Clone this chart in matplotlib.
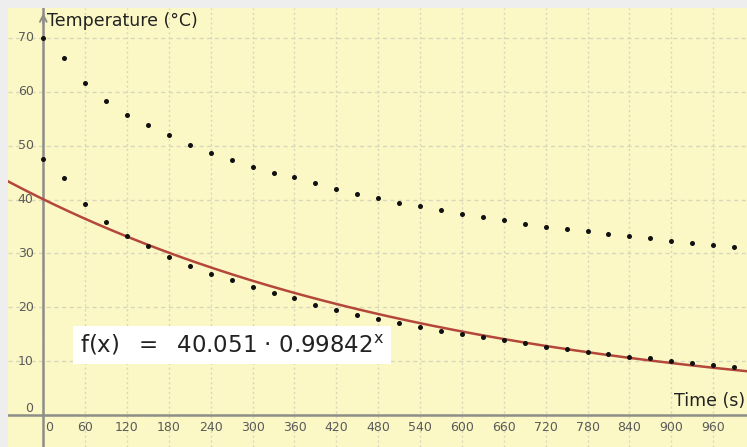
import numpy as np
import matplotlib
matplotlib.use("Agg")
import matplotlib.pyplot as plt

# ---- data ----
time_upper = [0, 30, 60, 90, 120, 150, 180, 210, 240, 270, 300, 330, 360, 390, 420, 450,
              480, 510, 540, 570, 600, 630, 660, 690, 720, 750, 780, 810, 840, 870, 900,
              930, 960, 990]
temp_upper = [70.0, 66.3, 61.6, 58.3, 55.7, 53.8, 51.9, 50.2, 48.6, 47.4, 46.0, 45.0, 44.1,
              43.0, 42.0, 41.1, 40.3, 39.4, 38.8, 38.1, 37.4, 36.7, 36.2, 35.5, 35.0, 34.6,
              34.1, 33.7, 33.2, 32.8, 32.4, 32.0, 31.6, 31.2]
time_lower = time_upper
temp_lower = [47.5, 44.0, 39.2, 35.9, 33.3, 31.3, 29.4, 27.7, 26.2, 25.1, 23.8, 22.6, 21.7,
              20.5, 19.5, 18.6, 17.8, 17.0, 16.4, 15.6, 15.0, 14.4, 13.9, 13.3, 12.7, 12.3,
              11.7, 11.3, 10.8, 10.5, 10.0, 9.6, 9.3, 8.9]
fit_a = 40.051
fit_b = 0.99842
x_ticks = [0, 60, 120, 180, 240, 300, 360, 420, 480, 540, 600, 660, 720, 780, 840, 900, 960]
y_ticks = [0, 10, 20, 30, 40, 50, 60, 70]
x_label = "Time (s)"
y_label = "Temperature (°C)"
formula = r"f(x)  $=$  40.051 · 0.99842$^{\mathsf{x}}$"

W, H = 747, 447
fig = plt.figure(figsize=(W / 100, H / 100), dpi=100)
fig.patch.set_facecolor("#eeeeee")
ax = fig.add_axes([8 / W, 0, (W - 8) / W, (H - 8) / H])
ax.set_facecolor("#fbf8c6")

xmin, xmax = -50.6, 1008.6
ymin, ymax = -5.94, 75.57
ax.set_xlim(xmin, xmax)
ax.set_ylim(ymin, ymax)

for s in ax.spines.values():
    s.set_visible(False)
ax.set_xticks([])
ax.set_yticks([])

grid_c = "#d9d6bb"
for xv in x_ticks:
    ax.axvline(xv, color=grid_c, lw=1.0, ls=(0, (1.5, 2.0)), zorder=1)
for yv in y_ticks:
    ax.axhline(yv, color=grid_c, lw=1.0, ls=(0, (3, 2.5)), zorder=1)

# axes lines
ax.axhline(0, color="#8e8e88", lw=1.8, zorder=2)
ax.axvline(0, color="#8e8e88", lw=1.8, zorder=2)
ax.annotate("", xy=(0, ymax - 0.4), xytext=(0, ymax - 3.5),
            arrowprops=dict(arrowstyle="->", color="#8e8e88", lw=1.4,
                            mutation_scale=12), zorder=2)

# tick labels
lab_c = "#5a5a5a"
for xv in x_ticks:
    ax.text(xv + (8 if xv == 0 else 0), -1.1, str(xv), ha="center", va="top",
            fontsize=9, color=lab_c, family="DejaVu Sans")
for yv in y_ticks:
    ax.text(-14, yv + (1.2 if yv == 0 else 0), str(yv), ha="right", va="center",
            fontsize=9, color=lab_c, family="DejaVu Sans")

ax.text(5, 73.2, y_label, ha="left", va="center", fontsize=12.5, color="#222222",
        family="DejaVu Sans")
ax.text(1006, 1.0, x_label, ha="right", va="bottom", fontsize=12.5, color="#222222",
        family="DejaVu Sans")

# fit curve
xf = np.linspace(xmin, xmax, 400)
ax.plot(xf, fit_a * fit_b ** xf, color="#b5473a", lw=1.8, zorder=3)

# data points
ax.scatter(time_upper, temp_upper, s=13, color="#111111", zorder=4, linewidths=0)
ax.scatter(time_lower, temp_lower, s=13, color="#111111", zorder=4, linewidths=0)

# formula box
ax.text(52, 13.0, formula, ha="left", va="center", fontsize=16.5, color="#222222",
        family="DejaVu Sans", zorder=5,
        bbox=dict(boxstyle="square,pad=0.3", facecolor="white", edgecolor="none"))

fig.savefig("out.png", dpi=100, facecolor=fig.get_facecolor())
